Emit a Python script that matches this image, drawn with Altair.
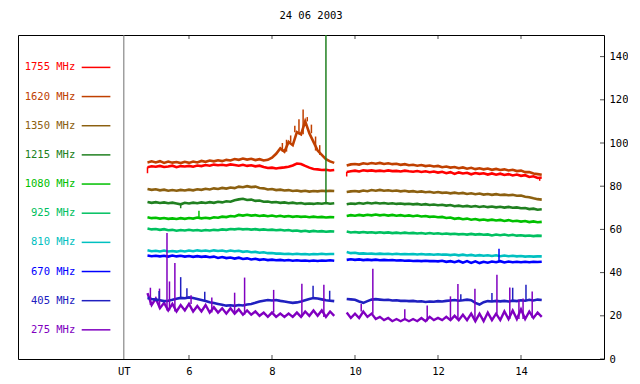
import altair as alt
import pandas as pd

TITLE = "24 06 2003"
SERIES = ["1755 MHz", "1620 MHz", "1350 MHz", "1215 MHz", "1080 MHz",
          "925 MHz", "810 MHz", "670 MHz", "405 MHz", "275 MHz"]
COLORS = ["#ff0000", "#c04000", "#8c6010", "#208020", "#00c000",
          "#00c060", "#00c0c0", "#0000ff", "#2020c0", "#8000c0"]

# sampling grid of the two recorded segments (hours UT)
T_A = [round(5.0 + 0.1 * i, 1) for i in range(46)]
T_B = [round(9.8 + 0.1 * i, 1) for i in range(48)]

F1755_A = [88.8, 89.2, 89.0, 89.4, 88.9, 89.1, 89.5, 88.8, 89.3, 89.1,
           89.4, 89.0, 89.6, 89.3, 89.8, 89.5, 90.0, 89.7, 89.9, 89.6,
           90.1, 89.8, 89.5, 89.9, 89.4, 89.7, 89.2, 89.5, 88.9, 88.4,
           88.6, 88.2, 88.5, 88.7, 89.0, 89.6, 90.5, 90.3, 89.4, 88.6,
           88.0, 87.8, 87.5, 87.6, 87.3, 87.5]
F1755_B = [86.6, 86.9,
           87.2, 86.8, 87.4, 87.1, 87.3, 87.0, 87.2, 86.9, 87.3, 87.0,
           87.1, 86.8, 87.2, 86.9, 86.7, 87.0, 86.6, 86.9, 86.5, 86.8,
           86.3, 86.7, 86.0, 86.5, 85.7, 86.4, 85.9, 86.2, 85.5, 86.1,
           85.7, 86.0, 85.4, 85.9, 85.3, 85.8, 85.2, 85.6, 85.0, 85.4,
           84.8, 85.1, 84.3, 84.6, 83.8, 84.0]

F1620_A = [91.0, 91.5, 91.0, 91.6, 90.8, 91.4, 90.9, 91.2, 90.7, 91.3,
           90.8, 91.4, 91.0, 91.7, 91.3, 91.9, 91.5, 92.0, 91.6, 92.2,
           91.9, 92.6, 92.2, 92.8, 92.3, 92.7, 92.1, 92.5, 91.9, 92.2,
           93.2, 95.0, 97.5, 96.0, 100.5, 99.0, 105.0, 104.0, 110.0, 104.5,
           100.5, 96.5, 94.5, 92.5, 91.5, 90.8]
F1620_B = [89.6, 90.1,
           90.3, 90.0, 90.6, 90.3, 90.7, 90.4, 90.8, 90.3, 90.6, 90.2,
           90.4, 89.9, 90.2, 89.7, 89.9, 89.5, 89.8, 89.3, 89.6, 89.1,
           89.4, 88.8, 89.1, 88.6, 88.9, 88.3, 88.7, 88.1, 88.5, 87.9,
           88.3, 87.8, 88.2, 87.6, 88.0, 87.5, 87.8, 87.3, 87.6, 87.0,
           87.2, 86.5, 86.6, 85.9, 85.6, 85.3]

F1350_A = [78.7, 78.3, 78.6, 78.1, 78.4, 77.9, 78.2, 77.9, 78.3, 78.0,
           78.4, 78.1, 78.6, 78.3, 78.8, 78.5, 79.0, 78.7, 79.2, 78.9,
           79.4, 79.1, 79.8, 79.5, 80.0, 79.6, 79.8, 79.2, 79.0, 78.5,
           78.7, 78.2, 78.4, 78.0, 78.2, 77.8, 78.0, 77.6, 77.9, 77.5,
           77.8, 77.6, 77.9, 77.7, 77.9, 77.8]
F1350_B = [77.3, 77.6,
           77.8, 77.5, 78.0, 77.7, 78.2, 77.9, 78.3, 77.9, 78.1, 77.8,
           78.0, 77.6, 77.9, 77.5, 77.7, 77.3, 77.6, 77.2, 77.4, 77.0,
           77.3, 76.9, 77.1, 76.7, 77.0, 76.6, 76.9, 76.4, 76.7, 76.3,
           76.6, 76.1, 76.4, 76.0, 76.3, 75.9, 76.1, 75.8, 76.0, 75.6,
           75.7, 75.1, 74.9, 74.4, 74.0, 73.8]

F1215_A = [72.7, 72.3, 72.6, 72.2, 72.5, 72.1, 72.4, 72.0, 71.6, 72.3,
           72.0, 72.4, 72.1, 72.5, 72.2, 72.6, 72.3, 72.8, 72.5, 73.0,
           72.8, 73.5, 73.9, 74.2, 73.6, 73.8, 73.2, 73.4, 72.8, 72.9,
           72.5, 72.7, 72.3, 72.5, 72.1, 72.4, 72.0, 72.2, 71.8, 72.0,
           71.8, 72.1, 71.9, 72.2, 71.9, 72.1]
F1215_B = [71.6, 72.0,
           71.8, 72.2, 71.9, 72.3, 72.0, 72.3, 72.0, 72.2, 71.9, 72.1,
           71.8, 72.0, 71.7, 71.9, 71.6, 71.8, 71.4, 71.7, 71.3, 71.5,
           71.2, 71.4, 71.0, 71.3, 70.7, 71.0, 70.6, 70.9, 70.5, 70.8,
           70.4, 70.7, 70.3, 70.6, 70.2, 70.5, 70.1, 70.4, 70.0, 70.2,
           69.8, 69.9, 69.4, 69.6, 69.1, 69.3]

F1080_A = [65.6, 65.2, 65.4, 65.0, 65.3, 64.9, 65.1, 64.8, 65.2, 64.9,
           65.3, 65.0, 65.5, 65.1, 65.4, 65.1, 65.6, 65.4, 65.9, 65.7,
           66.2, 66.0, 66.7, 66.4, 66.8, 66.4, 66.6, 66.2, 66.5, 66.1,
           66.4, 66.0, 66.3, 65.9, 66.2, 65.8, 66.1, 65.8, 66.0, 65.6,
           65.9, 65.6, 65.8, 65.5, 65.7, 65.6]
F1080_B = [66.2, 66.6,
           66.3, 66.7, 66.4, 66.8, 66.5, 66.9, 66.5, 66.8, 66.4, 66.7,
           66.3, 66.6, 66.2, 66.5, 66.1, 66.4, 66.0, 66.2, 65.8, 66.0,
           65.6, 65.8, 65.3, 65.5, 64.9, 65.2, 64.7, 65.0, 64.5, 64.8,
           64.3, 64.6, 64.2, 64.5, 64.1, 64.4, 63.9, 64.3, 63.8, 64.0,
           63.6, 63.9, 63.4, 63.7, 63.3, 63.5]

F925_A = [60.4, 60.0, 60.2, 59.8, 60.1, 59.6, 59.8, 59.4, 59.7, 59.5,
          59.8, 59.5, 59.7, 59.4, 59.7, 59.5, 59.8, 59.6, 60.0, 59.8,
          60.2, 60.0, 60.3, 60.0, 60.2, 59.9, 60.1, 59.8, 60.0, 59.7,
          59.9, 59.6, 59.8, 59.5, 59.7, 59.3, 59.5, 59.1, 59.4, 59.0,
          59.3, 59.0, 59.2, 58.9, 59.1, 59.0]
F925_B = [59.0, 58.6,
          58.8, 58.5, 58.8, 58.5, 58.7, 58.4, 58.7, 58.4, 58.6, 58.3,
          58.5, 58.2, 58.5, 58.2, 58.4, 58.1, 58.3, 58.0, 58.3, 58.0,
          58.2, 57.9, 58.1, 57.8, 58.0, 57.7, 57.9, 57.6, 57.9, 57.6,
          57.8, 57.5, 57.7, 57.2, 57.6, 57.3, 57.6, 57.2, 57.5, 57.1,
          57.3, 57.0, 57.2, 56.9, 57.1, 57.0]

F810_A = [50.3, 49.9, 50.1, 49.8, 50.2, 49.8, 50.0, 49.7, 50.1, 49.8,
          50.2, 49.9, 50.3, 50.0, 50.2, 49.9, 50.3, 50.0, 50.2, 49.8,
          50.2, 49.9, 50.1, 49.6, 49.9, 49.4, 49.6, 49.2, 49.4, 49.0,
          49.1, 48.8, 48.8, 48.6, 48.7, 48.5, 48.7, 48.5, 48.6, 48.4,
          48.6, 48.5, 48.7, 48.5, 48.6, 48.6]
F810_B = [49.5, 49.0,
          49.2, 48.8, 48.9, 48.7, 48.8, 48.6, 48.8, 48.6, 48.7, 48.5,
          48.7, 48.5, 48.6, 48.5, 48.6, 48.4, 48.6, 48.4, 48.5, 48.3,
          48.5, 48.3, 48.4, 48.1, 48.4, 48.0, 48.3, 47.9, 48.2, 47.8,
          48.1, 47.8, 48.0, 47.7, 48.0, 47.6, 47.9, 47.6, 47.8, 47.5,
          47.7, 47.4, 47.6, 47.4, 47.5, 47.5]

F670_A = [47.9, 47.6, 47.8, 47.5, 47.8, 47.4, 47.9, 47.5, 47.8, 47.4,
          47.7, 47.3, 47.6, 47.3, 47.5, 47.1, 47.4, 46.8, 47.2, 46.7,
          47.0, 46.5, 46.9, 46.3, 46.6, 46.1, 46.4, 45.9, 46.2, 45.8,
          46.0, 45.7, 45.9, 45.6, 45.8, 45.5, 45.7, 45.5, 45.6, 45.4,
          45.6, 45.4, 45.6, 45.5, 45.7, 45.5]
F670_B = [45.9, 46.2,
          45.9, 46.1, 45.8, 46.0, 45.8, 46.0, 45.7, 45.9, 45.7, 45.8,
          45.6, 45.7, 45.5, 45.6, 45.4, 45.5, 45.3, 45.5, 45.3, 45.4,
          45.2, 45.5, 45.0, 45.3, 44.8, 45.4, 44.6, 45.3, 44.5, 45.2,
          44.4, 45.0, 44.6, 45.1, 44.8, 45.3, 44.7, 45.1, 44.8, 45.0,
          44.8, 45.0, 44.8, 45.0, 44.9, 45.0]

F405_A = [28.3, 27.8, 27.5, 27.2, 26.8, 27.0, 27.4, 27.9, 28.3, 28.1,
          28.5, 28.2, 27.8, 27.3, 26.8, 26.3, 25.9, 25.5, 25.1, 24.7,
          24.9, 24.6, 25.0, 24.8, 25.2, 25.5, 26.0, 26.6, 27.0, 27.3,
          27.1, 27.3, 26.9, 26.6, 26.3, 26.0, 26.2, 26.6, 27.2, 27.8,
          28.2, 28.0, 27.6, 27.2, 27.0, 26.8]
F405_B = [27.8, 27.6,
          27.4, 26.6, 26.0, 26.8, 27.5, 27.7, 27.5, 27.3, 27.4, 27.1,
          27.2, 26.9, 27.0, 26.8, 26.9, 26.6, 26.7, 26.4, 26.6, 26.5,
          26.8, 26.6, 26.9, 27.1, 27.3, 27.0, 27.2, 27.5, 27.2, 26.0,
          25.2, 26.3, 26.8, 26.6, 26.9, 26.7, 26.9, 26.6, 27.0, 26.8,
          27.2, 27.0, 27.4, 27.1, 27.5, 27.3]

F275_A = [30.5, 25.0, 28.0, 23.5, 26.0, 22.5, 25.5, 22.0, 25.0, 22.5,
          25.5, 22.0, 24.5, 22.0, 25.0, 21.5, 24.0, 21.5, 23.5, 21.0,
          23.5, 21.0, 23.0, 20.5, 22.5, 20.5, 22.0, 20.0, 21.5, 19.5,
          21.5, 19.5, 21.0, 19.5, 21.0, 19.5, 21.5, 19.5, 22.0, 20.0,
          22.5, 20.0, 22.5, 19.5, 22.0, 20.0]
F275_B = [21.5, 19.0,
          21.0, 19.0, 22.0, 19.5, 21.0, 18.5, 19.5, 18.0, 19.0, 17.5,
          18.5, 17.5, 18.5, 17.5, 18.5, 17.5, 19.0, 17.5, 19.5, 18.0,
          19.0, 18.0, 19.5, 18.0, 20.0, 18.0, 20.5, 18.0, 21.0, 17.5,
          21.0, 17.5, 21.5, 18.0, 21.0, 18.0, 22.0, 18.5, 22.5, 18.5,
          23.0, 18.5, 22.0, 19.0, 21.5, 19.5]

# isolated spikes: series, time, tip value
SPIKE_SERIES = ["275 MHz"] * 24 + ["405 MHz"] * 10 + ["670 MHz", "1080 MHz",
                "1215 MHz", "1215 MHz"] + ["1620 MHz"] * 10 + ["1755 MHz"] * 3
SPIKE_T = [5.47, 5.53, 5.66, 5.29, 5.07, 7.1, 7.34, 8.04, 8.72, 9.25, 6.05, 6.55,
           10.43, 11.74, 12.3, 12.48, 12.89, 13.42, 13.73, 14.27, 14.05, 13.95, 10.15, 11.2,
           5.8, 5.95, 6.38, 8.99, 9.39, 5.28, 13.8, 14.12, 12.55, 13.3,
           13.47, 6.24, 9.3, 5.8,
           8.75, 8.65, 8.55, 8.45, 8.85, 8.95, 8.35, 8.25, 9.05, 9.15,
           5.0, 9.8, 14.45]
SPIKE_TOP = [58.3, 35.9, 44.4, 32.6, 33.0, 30.7, 37.7, 32.0, 34.8, 34.4, 29.5, 28.5,
             41.8, 24.8, 29.0, 34.7, 32.5, 39.0, 33.1, 31.3, 28.0, 27.5, 25.5, 23.0,
             37.9, 32.8, 31.1, 33.9, 31.6, 31.5, 33.0, 34.4, 30.0, 30.5,
             51.0, 68.6, 150.0, 69.8,
             115.5, 111.0, 108.0, 103.5, 112.0, 108.5, 101.5, 100.0, 103.0, 99.0,
             86.0, 84.5, 82.5]

UT_POS = 4.43
X_TICKS = [6, 8, 10, 12, 14]
Y_TICKS = [0, 20, 40, 60, 80, 100, 120, 140]
X_MIN, X_MAX = 1.88, 16.0
Y_MIN, Y_MAX = 0, 150

VALUES = {
    "1755 MHz": (F1755_A, F1755_B), "1620 MHz": (F1620_A, F1620_B),
    "1350 MHz": (F1350_A, F1350_B), "1215 MHz": (F1215_A, F1215_B),
    "1080 MHz": (F1080_A, F1080_B), "925 MHz": (F925_A, F925_B),
    "810 MHz": (F810_A, F810_B), "670 MHz": (F670_A, F670_B),
    "405 MHz": (F405_A, F405_B), "275 MHz": (F275_A, F275_B),
}

rows = []
for s in reversed(SERIES):
    a, b = VALUES[s]
    for t, v in zip(T_A, a):
        rows.append({"series": s, "seg": s + "A", "t": t, "v": v})
    for t, v in zip(T_B, b):
        rows.append({"series": s, "seg": s + "B", "t": t, "v": v})
df = pd.DataFrame(rows)

spk = []
for s, t, top in zip(SPIKE_SERIES, SPIKE_T, SPIKE_TOP):
    sub = df[df.series == s]
    base = sub.iloc[(sub.t - t).abs().argsort().iloc[0]].v
    spk.append({"series": s, "t": t, "top": top, "base": base})
spikes = pd.DataFrame(spk)

leg = pd.DataFrame({
    "series": SERIES,
    "ly": [135 - 13.5 * i for i in range(len(SERIES))],
})
leg["tx"] = 3.26
leg["lx1"] = 3.415
leg["lx2"] = 4.106

xt = pd.DataFrame([{"t": t, "edge": e} for t in X_TICKS for e in (Y_MIN, Y_MAX)])
yt = pd.DataFrame({"v": Y_TICKS, "edge": X_MAX})

FONT = "DejaVu Sans Mono"
FS = 10.5
xscale = alt.Scale(domain=[X_MIN, X_MAX], nice=False, zero=False)
yscale = alt.Scale(domain=[Y_MIN, Y_MAX], nice=False, zero=True)
cscale = alt.Scale(domain=SERIES, range=COLORS)

x_bottom = alt.Axis(orient="bottom", values=[UT_POS] + X_TICKS,
                    labelExpr="datum.value < 5 ? 'UT' : format(datum.value, 'd')",
                    ticks=False, tickSize=0, domain=False, grid=False,
                    labelFont=FONT, labelFontSize=FS, labelColor="black",
                    labelPadding=7, title=None,
                    labelFlush=False, labelOverlap=False)
y_right = alt.Axis(orient="right", values=Y_TICKS, ticks=False, tickSize=0,
                   domain=False, grid=False, labelFont=FONT, labelFontSize=FS,
                   labelColor="black", labelPadding=5,
                   title=None, labelOverlap=False)

ut_line = alt.Chart(pd.DataFrame({"t": [UT_POS]})).mark_rule(
    color="#707070", strokeWidth=1
).encode(x=alt.X("t:Q", scale=xscale, axis=None))

lines = alt.Chart(df).mark_line(clip=True).encode(
    x=alt.X("t:Q", scale=xscale, axis=x_bottom),
    y=alt.Y("v:Q", scale=yscale, axis=y_right),
    color=alt.Color("series:N", scale=cscale, legend=None),
    detail="seg:N",
    order="t:Q",
    strokeWidth=alt.condition(alt.datum.series == "275 MHz", alt.value(2.4), alt.value(2.6)),
)

spike_layer = alt.Chart(spikes).mark_rule(strokeWidth=1.5, clip=True).encode(
    x=alt.X("t:Q", scale=xscale, axis=None),
    y=alt.Y("base:Q", scale=yscale, axis=None),
    y2="top:Q",
    color=alt.Color("series:N", scale=cscale, legend=None),
)

x_ticks = alt.Chart(xt).mark_tick(orient="vertical", size=8, thickness=1,
                                  color="black", clip=True).encode(
    x=alt.X("t:Q", scale=xscale, axis=None),
    y=alt.Y("edge:Q", scale=yscale, axis=None),
)
y_ticks = alt.Chart(yt).mark_tick(orient="horizontal", size=8, thickness=1,
                                  color="black", clip=True).encode(
    x=alt.X("edge:Q", scale=xscale, axis=None),
    y=alt.Y("v:Q", scale=yscale, axis=None),
)

leg_text = alt.Chart(leg).mark_text(
    align="right", baseline="middle", font=FONT, fontSize=FS
).encode(
    x=alt.X("tx:Q", scale=xscale, axis=None),
    y=alt.Y("ly:Q", scale=yscale, axis=None),
    text="series:N",
    color=alt.Color("series:N", scale=cscale, legend=None),
)

leg_line = alt.Chart(leg).mark_rule(strokeWidth=1.5).encode(
    x=alt.X("lx1:Q", scale=xscale, axis=None),
    x2="lx2:Q",
    y=alt.Y("ly:Q", scale=yscale, axis=None),
    color=alt.Color("series:N", scale=cscale, legend=None),
)

chart = alt.layer(ut_line, lines, spike_layer, x_ticks, y_ticks, leg_line, leg_text).resolve_axis(
    x="independent", y="independent"
).properties(
    width=586, height=324,
    padding={"left": 10, "top": 27, "right": 24, "bottom": 22},
    autosize=alt.AutoSizeParams(type="none"),
    background="white",
    title=alt.TitleParams(TITLE, font=FONT, fontSize=FS, fontWeight="normal",
                          color="black", anchor="middle", offset=13),
).configure_view(stroke="black", strokeWidth=1)

chart.save("out.html", embed_options={"renderer": "svg", "actions": False})
